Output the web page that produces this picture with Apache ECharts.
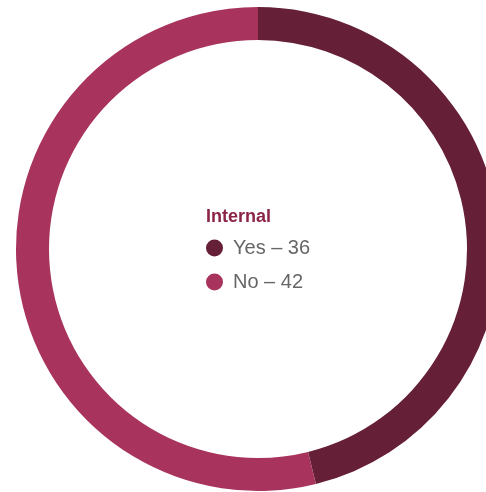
<!DOCTYPE html>
<html>
<head>
<meta charset="utf-8">
<script src="https://cdn.jsdelivr.net/npm/echarts@6/dist/echarts.min.js"></script>
<style>html,body{margin:0;padding:0;background:#fff}#c{width:486px;height:492px}</style>
</head>
<body>
<div id="c"></div>
<script>
const categories = ['Yes', 'No'];
const values = [36, 42];
const colors = ['#651f37', '#a8335d'];
const titleText = 'Internal';

const chart = echarts.init(document.getElementById('c'), null, {renderer: 'canvas'});
chart.setOption({
  animation: false,
  title: {
    text: titleText,
    left: 206, top: 208,
    padding: 0,
    textStyle: {fontFamily: 'Liberation Sans', fontSize: 18, fontWeight: 'bold', color: '#8c2449'}
  },
  legend: {
    orient: 'vertical',
    left: 206, top: 238,
    padding: 0,
    icon: 'circle',
    itemWidth: 17, itemHeight: 17,
    itemGap: 14,
    data: categories,
    formatter: function (name) {
      const i = categories.indexOf(name);
      return name + ' \u2013 ' + values[i];
    },
    textStyle: {fontFamily: 'Liberation Sans', fontSize: 20, color: '#666666', padding: [0, 0, 0, 5]}
  },
  series: [{
    type: 'pie',
    center: [258, 249],
    radius: [209, 242],
    startAngle: 90,
    clockwise: true,
    label: {show: false},
    labelLine: {show: false},
    silent: true,
    itemStyle: {borderWidth: 0},
    data: categories.map((c, i) => ({name: c, value: values[i], itemStyle: {color: colors[i]}}))
  }]
});
</script>
</body>
</html>
